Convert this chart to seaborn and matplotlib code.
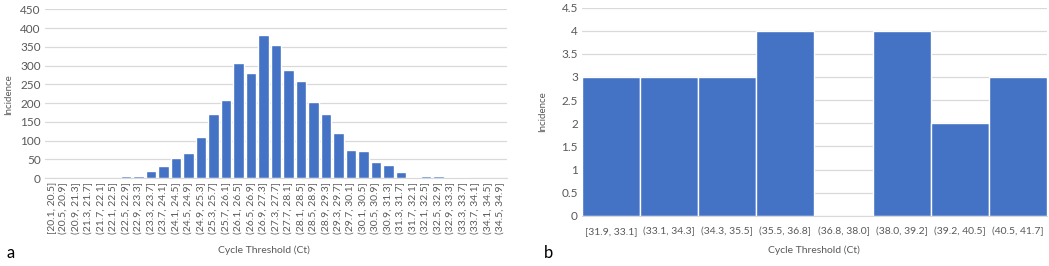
#!/usr/bin/env python3
"""Ct histograms: (a) all positives, (b) high-Ct subset."""
import pandas as pd
import matplotlib
matplotlib.use('Agg')
import matplotlib.pyplot as plt
import seaborn as sns

# panel a
bins_a = ['[20.1, 20.5]', '(20.5, 20.9]', '(20.9, 21.3]', '(21.3, 21.7]', '(21.7, 22.1]',
          '(22.1, 22.5]', '(22.5, 22.9]', '(22.9, 23.3]', '(23.3, 23.7]', '(23.7, 24.1]',
          '(24.1, 24.5]', '(24.5, 24.9]', '(24.9, 25.3]', '(25.3, 25.7]', '(25.7, 26.1]',
          '(26.1, 26.5]', '(26.5, 26.9]', '(26.9, 27.3]', '(27.3, 27.7]', '(27.7, 28.1]',
          '(28.1, 28.5]', '(28.5, 28.9]', '(28.9, 29.3]', '(29.3, 29.7]', '(29.7, 30.1]',
          '(30.1, 30.5]', '(30.5, 30.9]', '(30.9, 31.3]', '(31.3, 31.7]', '(31.7, 32.1]',
          '(32.1, 32.5]', '(32.5, 32.9]', '(32.9, 33.3]', '(33.3, 33.7]', '(33.7, 34.1]',
          '(34.1, 34.5]', '(34.5, 34.9]']
counts_a = [0, 0, 0, 0, 0, 0, 6, 6, 18, 33, 53, 67, 110, 170, 209, 308, 281, 383,
            355, 288, 259, 202, 171, 121, 76, 71, 42, 34, 17, 4, 6, 6, 4, 3, 0, 0, 0]

# panel b
bins_b = ['[31.9, 33.1]', '(33.1, 34.3]', '(34.3, 35.5]', '(35.5, 36.8]',
          '(36.8, 38.0]', '(38.0, 39.2]', '(39.2, 40.5]', '(40.5, 41.7]']
counts_b = [3, 3, 3, 4, 0, 4, 2, 3]

BLUE = '#4472C4'
GRID = '#D9D9D9'
TXT = '#595959'

sns.set_style('white')
plt.rcParams['font.family'] = ['Lato', 'DejaVu Sans']

fig = plt.figure(figsize=(10.49, 2.66), dpi=100)
ax_a = fig.add_axes([0.0429, 0.3308, 0.4404, 0.6335])
ax_b = fig.add_axes([0.5548, 0.188, 0.4433, 0.7838])


def style(ax, ymax, step):
    ax.set_ylim(0, ymax)
    ax.set_yticks([i * step for i in range(int(round(ymax / step)) + 1)])
    ax.yaxis.grid(True, color=GRID, linewidth=0.9)
    ax.set_axisbelow(True)
    for s in ['top', 'right', 'left']:
        ax.spines[s].set_visible(False)
    ax.spines['bottom'].set_color(GRID)
    ax.tick_params(axis='both', length=0, colors=TXT, labelsize=8.5, pad=3)
    ax.set_xlabel('')
    ax.set_ylabel('')


df_a = pd.DataFrame({'bin': bins_a, 'n': counts_a})
sns.barplot(data=df_a, x='bin', y='n', color=BLUE, saturation=1, width=0.85, ax=ax_a)
style(ax_a, 450, 50)
ax_a.set_xlim(-0.5, len(bins_a) - 0.5)
ax_a.tick_params(axis='x', labelrotation=90, labelsize=7.5)

df_b = pd.DataFrame({'bin': bins_b, 'n': counts_b})
sns.barplot(data=df_b, x='bin', y='n', color=BLUE, saturation=1, width=1.0,
            edgecolor='white', linewidth=1.0, ax=ax_b)
style(ax_b, 4.5, 0.5)
ax_b.set_xlim(-0.5, len(bins_b) - 0.5)
ax_b.set_yticklabels(['0', '0.5', '1', '1.5', '2', '2.5', '3', '3.5', '4', '4.5'])
ax_b.tick_params(axis='x', labelsize=7.5, pad=8)

# axis titles and panel letters
fig.text(0.252, 0.06, 'Cycle Threshold (Ct)', ha='center', va='center', fontsize=7.5, color=TXT)
fig.text(0.776, 0.06, 'Cycle Threshold (Ct)', ha='center', va='center', fontsize=7.5, color=TXT)
fig.text(0.008, 0.645, 'Incidence', rotation=90, ha='center', va='center', fontsize=7, color=TXT)
fig.text(0.517, 0.58, 'Incidence', rotation=90, ha='center', va='center', fontsize=7, color=TXT)
fig.text(0.006, 0.03, 'a', fontsize=12, color='black')
fig.text(0.518, 0.03, 'b', fontsize=12, color='black')

fig.savefig('out.png', dpi=100)
